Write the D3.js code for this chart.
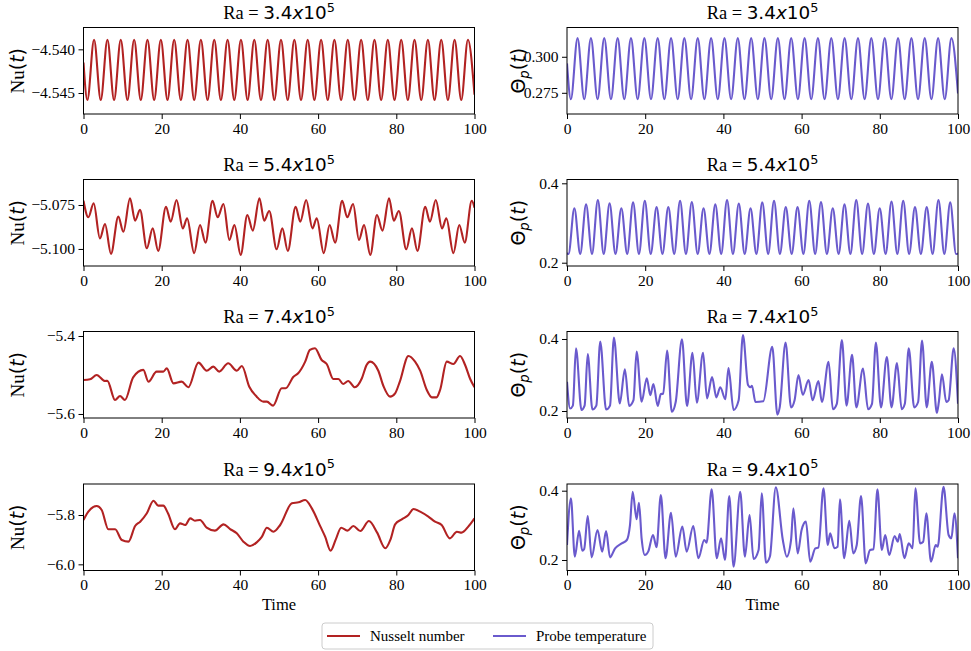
<!DOCTYPE html>
<html><head><meta charset="utf-8">
<script src="https://cdn.jsdelivr.net/npm/d3@7"></script>
<style>
body{margin:0;background:#fff;}
svg{display:block;}
</style></head><body>
<svg id="chart" width="971" height="651"></svg>
<script>
// ---------------- data ----------------
const timeTicks = [0, 20, 40, 60, 80, 100];
const rayleigh = ["3.4", "5.4", "7.4", "9.4"];
const legendLabels = ["Nusselt number", "Probe temperature"];

const nuTicks = [[-4.545, -4.540], [-5.100, -5.075], [-5.6, -5.4], [-6.0, -5.8]];
const nuTickLabels = [["\u22124.545", "\u22124.540"], ["\u22125.100", "\u22125.075"], ["\u22125.6", "\u22125.4"], ["\u22126.0", "\u22125.8"]];
const thetaTicks = [[0.275, 0.300], [0.2, 0.4], [0.2, 0.4], [0.2, 0.4]];
const thetaTickLabels = [["0.275", "0.300"], ["0.2", "0.4"], ["0.2", "0.4"], ["0.2", "0.4"]];
const nuLimits = [[-4.5474, -4.5375], [-5.1097, -5.0605], [-5.6103, -5.3885], [-6.025, -5.6743]];
const thetaLimits = [[0.2603, 0.3203], [0.1917, 0.4096], [0.1806, 0.4208], [0.1697, 0.4193]];

// [time, value] pairs
const nuRa34 = [[0,-4.5415],[0.99,-4.5458],[2.70,-4.5389],[4.41,-4.5458],[6.12,-4.5389],[7.82,-4.5458],[9.53,-4.5389],[11.24,-4.5458],[12.95,-4.5389],[14.65,-4.5458],[16.36,-4.5389],[18.07,-4.5458],[19.78,-4.5389],[21.48,-4.5458],[23.19,-4.5389],[24.90,-4.5458],[26.61,-4.5389],[28.31,-4.5458],[30.02,-4.5389],[31.73,-4.5458],[33.44,-4.5389],[35.14,-4.5458],[36.85,-4.5389],[38.56,-4.5458],[40.27,-4.5389],[41.97,-4.5458],[43.68,-4.5389],[45.39,-4.5458],[47.10,-4.5389],[48.80,-4.5458],[50.51,-4.5389],[52.22,-4.5458],[53.93,-4.5389],[55.63,-4.5458],[57.34,-4.5389],[59.05,-4.5458],[60.76,-4.5389],[62.46,-4.5458],[64.17,-4.5389],[65.88,-4.5458],[67.59,-4.5389],[69.29,-4.5458],[71.00,-4.5389],[72.71,-4.5458],[74.42,-4.5389],[76.12,-4.5458],[77.83,-4.5389],[79.54,-4.5458],[81.25,-4.5389],[82.95,-4.5458],[84.66,-4.5389],[86.37,-4.5458],[88.08,-4.5389],[89.78,-4.5458],[91.49,-4.5389],[93.20,-4.5458],[94.91,-4.5389],[96.61,-4.5458],[98.32,-4.5389],[100,-4.5452]];

const thetaRa34 = [[0,0.2954],[0.99,0.2705],[2.70,0.3129],[4.41,0.2705],[6.12,0.3129],[7.82,0.2705],[9.53,0.3129],[11.24,0.2705],[12.95,0.3129],[14.65,0.2705],[16.36,0.3129],[18.07,0.2705],[19.78,0.3129],[21.48,0.2705],[23.19,0.3129],[24.90,0.2705],[26.61,0.3129],[28.31,0.2705],[30.02,0.3129],[31.73,0.2705],[33.44,0.3129],[35.14,0.2705],[36.85,0.3129],[38.56,0.2705],[40.27,0.3129],[41.97,0.2705],[43.68,0.3129],[45.39,0.2705],[47.10,0.3129],[48.80,0.2705],[50.51,0.3129],[52.22,0.2705],[53.93,0.3129],[55.63,0.2705],[57.34,0.3129],[59.05,0.2705],[60.76,0.3129],[62.46,0.2705],[64.17,0.3129],[65.88,0.2705],[67.59,0.3129],[69.29,0.2705],[71.00,0.3129],[72.71,0.2705],[74.42,0.3129],[76.12,0.2705],[77.83,0.3129],[79.54,0.2705],[81.25,0.3129],[82.95,0.2705],[84.66,0.3129],[86.37,0.2705],[88.08,0.3129],[89.78,0.2705],[91.49,0.3129],[93.20,0.2705],[94.91,0.3129],[96.61,0.2705],[98.32,0.3129],[100,0.2745]];

const nuRa54 = [[0,-5.0726],[1.24,-5.082],[2.6,-5.074],[4.2,-5.094],[5.5,-5.0858],[7.03,-5.1028],[8.9,-5.0816],[10.2,-5.0902],[11.9,-5.0712],[13.2,-5.0839],[14.45,-5.0778],[16.2,-5.0996],[17.7,-5.0883],[19.1,-5.1011],[21.1,-5.076],[22.3,-5.0845],[23.8,-5.0722],[25.4,-5.0883],[26.5,-5.0826],[28.3,-5.1024],[29.8,-5.0864],[31.2,-5.0964],[33.0,-5.0726],[34.3,-5.082],[35.8,-5.0744],[37.3,-5.0949],[38.6,-5.0864],[40.2,-5.1034],[41.9,-5.0807],[43.3,-5.0896],[45.0,-5.0712],[46.2,-5.0839],[47.5,-5.0784],[49.4,-5.1002],[50.85,-5.0883],[52.25,-5.1011],[54.25,-5.076],[55.45,-5.0845],[56.95,-5.0722],[58.55,-5.0883],[59.65,-5.0826],[61.45,-5.1024],[62.95,-5.0864],[64.35,-5.0964],[66.15,-5.0726],[67.45,-5.082],[68.95,-5.0744],[70.45,-5.0949],[71.75,-5.0864],[73.35,-5.1034],[75.05,-5.0807],[76.45,-5.0896],[78.15,-5.0712],[79.35,-5.0839],[80.65,-5.0784],[82.55,-5.1002],[84.0,-5.0883],[85.4,-5.1011],[87.4,-5.076],[88.6,-5.0845],[90.1,-5.0722],[91.7,-5.0883],[92.8,-5.0826],[94.6,-5.1024],[96.1,-5.0864],[97.5,-5.0964],[99.3,-5.0726],[100,-5.0765]];

const thetaRa54 = [[0,0.2245],[0.38,0.2219],[1.88,0.337],[3.38,0.2219],[4.88,0.347],[6.39,0.2219],[7.89,0.358],[9.39,0.2219],[10.89,0.3496],[12.4,0.2219],[13.90,0.337],[15.4,0.2219],[16.90,0.352],[18.4,0.2219],[19.90,0.356],[21.41,0.2219],[22.91,0.340],[24.41,0.2219],[25.91,0.340],[27.42,0.2219],[28.92,0.356],[30.42,0.2219],[31.92,0.353],[33.42,0.2219],[34.92,0.337],[36.43,0.2219],[37.93,0.347],[39.43,0.2219],[40.93,0.358],[42.44,0.2219],[43.94,0.349],[45.44,0.2219],[46.94,0.337],[48.44,0.2219],[49.94,0.352],[51.45,0.2219],[52.95,0.356],[54.45,0.2219],[55.95,0.340],[57.46,0.2219],[58.96,0.340],[60.46,0.2219],[61.96,0.356],[63.46,0.2219],[64.96,0.353],[66.47,0.2219],[67.97,0.337],[69.47,0.2219],[70.97,0.347],[72.48,0.2219],[73.98,0.358],[75.48,0.2219],[76.98,0.349],[78.48,0.2219],[79.98,0.337],[81.49,0.2219],[82.99,0.354],[84.49,0.2219],[85.99,0.356],[87.50,0.2219],[89.00,0.340],[90.50,0.2219],[92.00,0.340],[93.50,0.2219],[95.00,0.358],[96.51,0.2219],[98.01,0.352],[99.51,0.2219],[100,0.2235]];

const nuRa74 = [[0,-5.5128],[1.66,-5.511],[3.37,-5.50],[5.5,-5.5154],[6.1,-5.515],[8.06,-5.564],[9.34,-5.554],[10.6,-5.564],[12.7,-5.506],[15.3,-5.487],[16.6,-5.517],[18.7,-5.4915],[20.4,-5.4915],[21.3,-5.483],[23.0,-5.5214],[25.1,-5.517],[26.8,-5.5316],[29.4,-5.4684],[31.5,-5.489],[33.2,-5.4786],[34.7,-5.4915],[37.0,-5.470],[39.2,-5.489],[40.5,-5.477],[42.4,-5.530],[44.3,-5.5556],[46.0,-5.5684],[46.9,-5.5684],[48.5,-5.5786],[50.7,-5.534],[51.7,-5.534],[53.7,-5.5043],[54.9,-5.4957],[56.7,-5.4658],[57.9,-5.4359],[59.2,-5.4316],[60.9,-5.4615],[62.2,-5.4718],[63.9,-5.5103],[65.2,-5.5103],[66.4,-5.5231],[67.7,-5.5154],[69.4,-5.5316],[71.2,-5.5085],[72.4,-5.4744],[73.3,-5.4658],[75.4,-5.489],[76.7,-5.5282],[78.4,-5.5556],[79.7,-5.547],[80.9,-5.517],[83.1,-5.4513],[84.8,-5.4658],[86.1,-5.489],[87.8,-5.5385],[89.1,-5.5573],[90.3,-5.5573],[91.2,-5.5385],[92.9,-5.4658],[94.6,-5.4718],[96.3,-5.4513],[97.6,-5.4744],[98.9,-5.5103],[100,-5.5316]];

const thetaRa74 = [[0,0.281],[0.8,0.207],[1.5,0.215],[2.3,0.374],[3.7,0.203],[4.5,0.215],[5.3,0.358],[6.5,0.204],[7.5,0.215],[8.5,0.393],[10.0,0.204],[11.0,0.215],[12.0,0.404],[13.5,0.221],[14.8,0.316],[15.9,0.214],[17.0,0.23],[17.8,0.365],[19.1,0.226],[20.4,0.291],[21.3,0.244],[22.1,0.275],[23.2,0.214],[24.0,0.247],[24.6,0.248],[25.6,0.368],[26.8,0.198],[27.8,0.225],[29.4,0.399],[30.7,0.214],[32.1,0.362],[33.2,0.223],[34.8,0.362],[35.8,0.235],[37.1,0.294],[38.2,0.238],[39.2,0.266],[40.5,0.233],[41.3,0.319],[42.6,0.203],[43.9,0.23],[45.0,0.411],[46.3,0.272],[46.9,0.266],[47.3,0.27],[48.2,0.225],[50.2,0.227],[52.5,0.378],[53.8,0.19],[54.4,0.21],[55.9,0.39],[57.3,0.21],[58.2,0.23],[59.2,0.30],[60.3,0.245],[61.8,0.286],[62.8,0.23],[64.3,0.283],[65.2,0.225],[66.9,0.337],[68.0,0.205],[69.0,0.22],[70.3,0.397],[71.5,0.215],[72.9,0.356],[74.0,0.21],[75.7,0.318],[77.0,0.205],[78.0,0.22],[79.0,0.39],[80.3,0.21],[81.8,0.35],[83.0,0.21],[84.4,0.333],[85.6,0.205],[86.4,0.22],[87.4,0.374],[88.8,0.21],[89.8,0.225],[90.8,0.396],[92.0,0.21],[93.3,0.337],[94.6,0.195],[95.1,0.225],[95.9,0.302],[97.0,0.225],[97.6,0.23],[98.9,0.374],[100,0.22]];

const nuRa94 = [[0,-5.8203],[1.24,-5.7865],[3.37,-5.7635],[4.65,-5.7797],[6.36,-5.858],[8.1,-5.858],[9.8,-5.9014],[11.5,-5.908],[13.2,-5.8446],[14.5,-5.827],[16.2,-5.793],[17.9,-5.742],[19.1,-5.762],[20.4,-5.762],[21.6,-5.793],[23.4,-5.858],[24.7,-5.8338],[26.0,-5.8405],[27.3,-5.8135],[28.5,-5.823],[29.8,-5.8203],[31.5,-5.8514],[33.6,-5.8635],[35.8,-5.8378],[37.5,-5.857],[39.2,-5.8743],[40.9,-5.908],[42.6,-5.9257],[44.3,-5.9108],[45.6,-5.889],[46.9,-5.8514],[48.6,-5.8676],[50.3,-5.8405],[53.3,-5.7527],[55.0,-5.7486],[56.7,-5.7392],[58.4,-5.773],[60.6,-5.8473],[61.8,-5.888],[63.2,-5.9446],[64.5,-5.90],[65.9,-5.8514],[67.5,-5.8635],[69.0,-5.8446],[70.8,-5.8649],[73.0,-5.8243],[75.1,-5.8716],[77.2,-5.935],[78.5,-5.90],[79.7,-5.8378],[81.4,-5.8176],[83.1,-5.80],[84.4,-5.7757],[86.1,-5.7865],[88.2,-5.8068],[89.9,-5.827],[91.6,-5.8405],[93.7,-5.8946],[95.5,-5.8676],[96.7,-5.8716],[98.4,-5.8473],[100,-5.8135]];

const thetaRa94 = [[0,0.2433],[1.0,0.378],[2.0,0.2096],[3.1,0.2846],[3.9,0.2269],[4.4,0.232],[5.3,0.327],[6.3,0.2077],[7.8,0.2866],[9.0,0.224],[10.0,0.2837],[11.0,0.2077],[12.3,0.2337],[14.0,0.248],[15.3,0.2577],[16.1,0.30],[16.8,0.397],[17.8,0.3174],[18.4,0.3653],[19.1,0.26],[19.9,0.2144],[20.8,0.225],[22.0,0.2721],[22.9,0.2366],[24.0,0.3875],[25.2,0.205],[26.6,0.3365],[27.8,0.2096],[29.5,0.2962],[30.6,0.224],[32.3,0.2981],[33.6,0.205],[35.1,0.2577],[35.7,0.250],[37.0,0.404],[38.3,0.205],[39.4,0.2626],[40.4,0.2],[41.5,0.3846],[42.6,0.1808],[44.3,0.397],[45.5,0.2096],[46.7,0.3298],[47.7,0.2029],[49.0,0.2289],[49.8,0.3923],[50.9,0.1923],[51.9,0.21],[53.4,0.4097],[55.2,0.2577],[56.2,0.2096],[57.3,0.2577],[57.9,0.349],[59.0,0.2192],[60.0,0.2866],[61.1,0.3106],[62.2,0.1952],[63.5,0.2337],[64.3,0.236],[65.6,0.4068],[66.7,0.2433],[67.3,0.277],[68.4,0.2337],[69.2,0.238],[69.8,0.375],[70.9,0.205],[72.2,0.3134],[73.2,0.2192],[74.1,0.2433],[75.2,0.3846],[76.4,0.1904],[77.5,0.2289],[78.4,0.2308],[79.4,0.404],[80.5,0.2289],[81.4,0.2721],[82.4,0.2144],[83.8,0.2692],[84.6,0.2529],[85.1,0.275],[86.3,0.205],[87.4,0.248],[88.4,0.2337],[89.1,0.4068],[90.3,0.248],[91.1,0.2529],[91.9,0.3346],[93.1,0.1952],[94.3,0.2433],[94.8,0.2385],[96.3,0.4115],[97.6,0.2721],[98.3,0.2626],[99.1,0.3346],[100,0.205]];

const nuSeries = [nuRa34, nuRa54, nuRa74, nuRa94];
const thetaSeries = [thetaRa34, thetaRa54, thetaRa74, thetaRa94];

// ---------------- layout / style ----------------
const NU_COLOR = "#b22222", THETA_COLOR = "#6a5acd";
const SERIF = "'Liberation Serif','Times New Roman',Times,serif";
const SANS = "'DejaVu Sans',sans-serif";
const TICK_FS = 15.5, TITLE_FS = 18.4, YLAB_FS = 19;
const colX = [[83.5, 474.5], [567, 958]];
const rowY = [[27.5, 114], [179.5, 266], [331.5, 418], [484, 570.5]];

const svg = d3.select("#chart");
svg.append("rect").attr("width", 971).attr("height", 651).attr("fill", "#fff");

function panel(col, row, data, limits, ticks, tickLabels, color, isTheta) {
  const [x0, x1] = colX[col], [y0, y1] = rowY[row];
  const x = d3.scaleLinear().domain([0, 100]).range([x0, x1]);
  const y = d3.scaleLinear().domain(limits).range([y1, y0]);
  const g = svg.append("g");
  const cid = `clip-${col}-${row}`;
  g.append("clipPath").attr("id", cid).append("rect")
    .attr("x", x0).attr("y", y0).attr("width", x1 - x0).attr("height", y1 - y0);

  const line = d3.line().x(d => x(d[0])).y(d => y(d[1])).curve(d3.curveMonotoneX);
  g.append("path").datum(data).attr("clip-path", `url(#${cid})`)
    .attr("fill", "none").attr("stroke", color).attr("stroke-width", 2.1)
    .attr("stroke-linejoin", "round").attr("d", line);

  // axes
  const ax = g.append("g").attr("transform", `translate(0,${y1})`)
    .call(d3.axisBottom(x).tickValues(timeTicks).tickFormat(d3.format("d")).tickSize(5).tickPadding(3.5));
  const ay = g.append("g").attr("transform", `translate(${x0},0)`)
    .call(d3.axisLeft(y).tickValues(ticks).tickFormat((d, i) => tickLabels[i]).tickSize(5).tickPadding(3.5));
  [ax, ay].forEach(a => {
    a.select(".domain").remove();
    a.selectAll("line").attr("stroke", "#000").attr("stroke-width", 1);
    a.selectAll("text").attr("fill", "#000").style("font-family", SERIF).style("font-size", TICK_FS + "px");
  });

  g.append("rect").attr("x", x0).attr("y", y0).attr("width", x1 - x0).attr("height", y1 - y0)
    .attr("fill", "none").attr("stroke", "#000").attr("stroke-width", 1);

  // title
  const t = g.append("text").attr("x", (x0 + x1) / 2).attr("y", y0 - 8.5)
    .attr("text-anchor", "middle").attr("fill", "#000").style("font-size", TITLE_FS + "px");
  t.append("tspan").style("font-family", SERIF).text("Ra = ");
  t.append("tspan").style("font-family", SANS).text(rayleigh[row]);
  t.append("tspan").style("font-family", SANS).style("font-style", "italic").text("x");
  t.append("tspan").style("font-family", SANS).text("10");
  t.append("tspan").style("font-family", SANS).style("font-size", (TITLE_FS * 0.7) + "px").attr("dy", -7.5).text("5");

  // y label
  const cy = (y0 + y1) / 2;
  const lx = col === 0 ? 24 : 525;
  const yl = g.append("text").attr("transform", `translate(${lx},${cy}) rotate(-90)`)
    .attr("text-anchor", "middle").attr("fill", "#000").style("font-size", YLAB_FS + "px");
  if (!isTheta) {
    yl.append("tspan").style("font-family", SERIF).text("Nu");
    yl.append("tspan").style("font-family", SANS).text("(");
    yl.append("tspan").style("font-family", SANS).style("font-style", "italic").text("t");
    yl.append("tspan").style("font-family", SANS).text(")");
  } else {
    yl.append("tspan").style("font-family", SANS).text("\u0398");
    yl.append("tspan").style("font-family", SANS).style("font-style", "italic").style("font-size", (YLAB_FS * 0.7) + "px").attr("dy", 4).text("p");
    yl.append("tspan").style("font-family", SANS).attr("dy", -4).text("(");
    yl.append("tspan").style("font-family", SANS).style("font-style", "italic").text("t");
    yl.append("tspan").style("font-family", SANS).text(")");
  }

  if (row === 3) {
    g.append("text").attr("x", (x0 + x1) / 2).attr("y", 610).attr("text-anchor", "middle")
      .attr("fill", "#000").style("font-family", SERIF).style("font-size", TICK_FS + 1 + "px").text("Time");
  }
}

for (let r = 0; r < 4; r++) {
  panel(0, r, nuSeries[r], nuLimits[r], nuTicks[r], nuTickLabels[r], NU_COLOR, false);
  panel(1, r, thetaSeries[r], thetaLimits[r], thetaTicks[r], thetaTickLabels[r], THETA_COLOR, true);
}

// legend
const lg = svg.append("g");
lg.append("rect").attr("x", 322).attr("y", 623).attr("width", 331).attr("height", 26).attr("rx", 3)
  .attr("fill", "#fff").attr("stroke", "#cccccc").attr("stroke-width", 1);
const legItems = [{x: 327, color: NU_COLOR, label: legendLabels[0]}, {x: 493, color: THETA_COLOR, label: legendLabels[1]}];
legItems.forEach(it => {
  lg.append("line").attr("x1", it.x).attr("x2", it.x + 33).attr("y1", 636).attr("y2", 636)
    .attr("stroke", it.color).attr("stroke-width", 2.1);
  lg.append("text").attr("x", it.x + 43).attr("y", 641).attr("fill", "#000")
    .style("font-family", SERIF).style("font-size", "15px").text(it.label);
});
</script>
</body></html>
